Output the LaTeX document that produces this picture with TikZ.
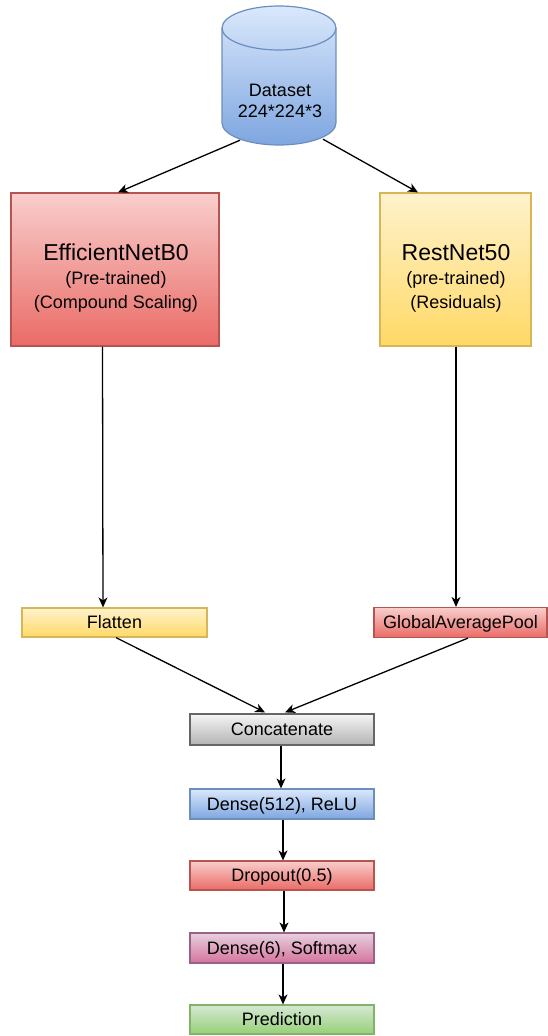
\documentclass[tikz,border=0pt]{standalone}
\usepackage{fontspec}
\setmainfont{Liberation Sans}
\usetikzlibrary{arrows.meta,calc}

% fill gradients (top -> bottom) and strokes
\definecolor{redT}{HTML}{F8CECC}\definecolor{redB}{HTML}{EA6B66}\definecolor{redS}{HTML}{B85450}
\definecolor{yelT}{HTML}{FFF2CC}\definecolor{yelB}{HTML}{FFD966}\definecolor{yelS}{HTML}{D6B656}
\definecolor{bluT}{HTML}{DAE8FC}\definecolor{bluB}{HTML}{7EA6E0}\definecolor{bluS}{HTML}{6C8EBF}
\definecolor{gryT}{HTML}{F5F5F5}\definecolor{gryB}{HTML}{B3B3B3}\definecolor{gryS}{HTML}{666666}
\definecolor{purT}{HTML}{E6D0DE}\definecolor{purB}{HTML}{D5739D}\definecolor{purS}{HTML}{996185}
\definecolor{grnT}{HTML}{D5E8D4}\definecolor{grnB}{HTML}{97D077}\definecolor{grnS}{HTML}{82B366}

\newcommand\lblfont{\fontsize{18}{21}\selectfont}
\newcommand\ttlfont{\fontsize{23}{24}\selectfont}

\tikzset{
  redbox/.style={top color=redT, bottom color=redB, draw=redS},
  yelbox/.style={top color=yelT, bottom color=yelB, draw=yelS},
  blubox/.style={top color=bluT, bottom color=bluB, draw=bluS},
  grybox/.style={top color=gryT, bottom color=gryB, draw=gryS},
  purbox/.style={top color=purT, bottom color=purB, draw=purS},
  grnbox/.style={top color=grnT, bottom color=grnB, draw=grnS},
  bigbox/.style={line width=1.2pt, inner sep=0pt, minimum height=153pt},
  layer/.style={line width=1.2pt, inner sep=0pt, minimum height=30pt,
    text height=12.9pt, text depth=0pt, font=\lblfont},
  boxtext/.style={inner sep=0pt, align=center, font=\fontsize{18}{24}\selectfont},
  wire/.style={line width=1.3pt, -{Stealth[length=10pt,width=9pt,inset=3pt]}},
}

\begin{document}
\begin{tikzpicture}[x=1pt,y=-1pt]
\useasboundingbox (0,0) rectangle (548,1036);

% dataset cylinder
\node[inner sep=0pt, minimum width=114pt, minimum height=139pt] (ds) at (279,75.5) {};
\shade[top color=bluT, bottom color=bluB]
  (222,28) -- (222,123) arc[start angle=180, end angle=0, x radius=57, y radius=22]
  -- (336,28) arc[start angle=0, end angle=-180, x radius=57, y radius=22] -- cycle;
\draw[bluS, line width=1.2pt]
  (222,28) -- (222,123) arc[start angle=180, end angle=0, x radius=57, y radius=22]
  -- (336,28) arc[start angle=0, end angle=-180, x radius=57, y radius=22] -- cycle;
\draw[bluS, line width=1.2pt] (222,28) arc[start angle=180, end angle=0, x radius=57, y radius=22];
\node[inner sep=0pt, align=center, font=\lblfont] (dstext) at (280,100.5) {Dataset\\224*224*3};

% backbones
\node[bigbox, redbox, minimum width=208pt] (eff) at (115,269.5) {};
\node[boxtext] (efftext) at (116,278) {{\ttlfont EfficientNetB0}\\(Pre-trained)\\(Compound Scaling)};
\node[bigbox, yelbox, minimum width=151pt] (res) at (455.5,269.5) {};
\node[boxtext] (restext) at (456,278) {{\ttlfont RestNet50}\\(pre-trained)\\(Residuals)};

% head layers
\node[layer, yelbox, minimum width=185pt, minimum height=29pt] (flat) at (114.5,622.5) {Flatten};
\node[layer, redbox, minimum width=173pt] (gap) at (460.5,622.5) {GlobalAveragePool};
\node[layer, grybox, minimum width=184pt, minimum height=31pt] (cat) at (282,729.5) {Concatenate};
\node[layer, blubox, minimum width=184pt] (d512) at (282,804) {Dense(512), ReLU};
\node[layer, redbox, minimum width=184pt, minimum height=29pt] (drop) at (282,875.5) {Dropout(0.5)};
\node[layer, purbox, minimum width=184pt] (d6) at (282,948) {Dense(6), Softmax};
\node[layer, grnbox, minimum width=184pt, minimum height=29pt] (pred) at (282,1019.5) {Prediction};

% connectors
\draw[wire] ($(ds.south)+(-39,-5)$) -- ($(eff.north)+(3,0)$);
\draw[wire] ($(ds.south)+(44,-6)$) -- ($(res.north)+(-37.5,0)$);
\draw[wire] ($(eff.south)+(-12.5,0)$) -- ($(flat.north)+(-11.5,0)$);
\draw[wire] ($(res.south)+(0.5,0)$) -- ($(gap.north)+(-4.5,0)$);
\draw[wire] ($(flat.south)+(1.5,0)$) -- ($(cat.north)+(-17,-1)$);
\draw[wire] ($(gap.south)+(7.5,0)$) -- ($(cat.north)+(3,-1)$);
\draw[wire] ($(cat.south)+(-1,0)$) -- ($(d512.north)+(-1,0)$);
\draw[wire] ($(d512.south)+(1,0)$) -- ($(drop.north)+(1,0)$);
\draw[wire] ($(drop.south)+(2,0)$) -- ($(d6.north)+(2,0)$);
\draw[wire] ($(d6.south)+(1,0)$) -- ($(pred.north)+(1,0)$);
\end{tikzpicture}
\end{document}
